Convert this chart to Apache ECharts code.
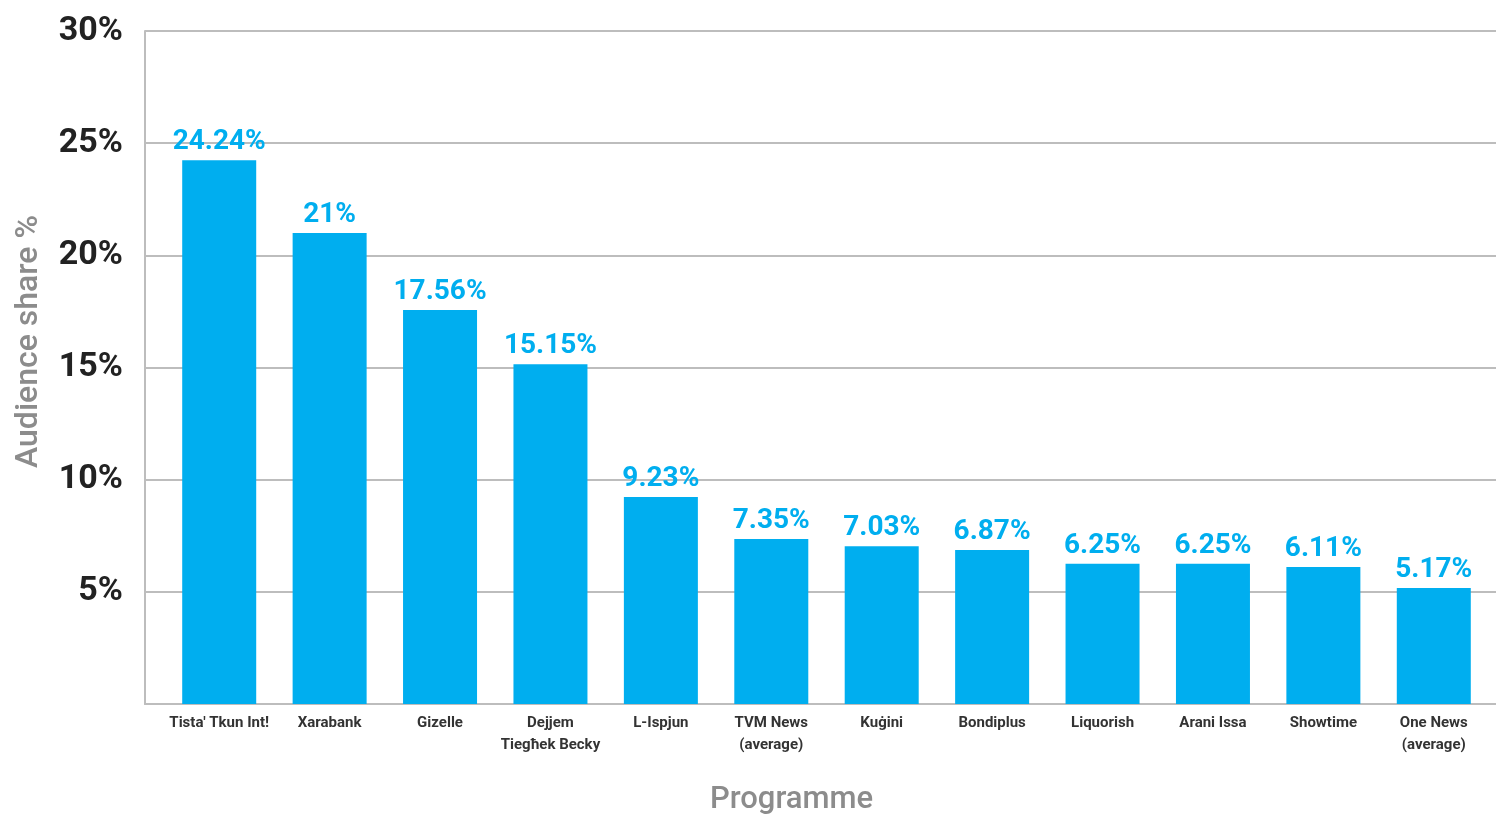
<!DOCTYPE html>
<html>
<head>
<meta charset="utf-8">
<script src="https://cdn.jsdelivr.net/npm/echarts@6/dist/echarts.min.js"></script>
<style>
  html, body { margin: 0; padding: 0; background: #fff; }
  #chart { width: 1496px; height: 822px; }
</style>
</head>
<body>
<div id="chart"></div>
<script>
const categories = [
  "Tista' Tkun Int!", 'Xarabank', 'Gizelle', 'Dejjem\nTiegħek Becky',
  'L-Ispjun', 'TVM News\n(average)', 'Kuġini', 'Bondiplus',
  'Liquorish', 'Arani Issa', 'Showtime', 'One News\n(average)'
]
const shares = [24.24, 21, 17.56, 15.15, 9.23, 7.35, 7.03, 6.87, 6.25, 6.25, 6.11, 5.17]
const yTicks = [0, 5, 10, 15, 20, 25, 30]

const FONT = "Roboto, 'Liberation Sans', sans-serif"
const BLUE = '#00aeef'

const chart = echarts.init(document.getElementById('chart'))

chart.setOption({
  animation: false,
  grid: [
    // frame: axis lines and gridlines
    { left: 145, right: 0, top: 31, bottom: 118, outerBoundsMode: 'none', containLabel: false },
    // bars
    { left: 164, right: 7, top: 31, bottom: 118, outerBoundsMode: 'none', containLabel: false }
  ],
  xAxis: [
    {
      gridIndex: 0,
      type: 'value',
      min: 0,
      max: 1,
      axisLine: { show: true, onZero: false, lineStyle: { color: '#bdbdbd', width: 2 } },
      axisTick: { show: false },
      axisLabel: { show: false },
      splitLine: { show: false }
    },
    {
      gridIndex: 1,
      type: 'category',
      data: categories,
      axisLine: { show: false },
      axisTick: { show: false },
      axisLabel: {
        interval: 0,
        margin: 8,
        fontFamily: FONT,
        fontWeight: 'bold',
        fontSize: 15,
        lineHeight: 22,
        color: '#333'
      },
      name: 'Programme',
      nameLocation: 'middle',
      nameGap: 81,
      nameTextStyle: {
        fontFamily: FONT,
        fontWeight: 500,
        fontSize: 31,
        color: '#8c8c8c',
        padding: [0, 70, 0, 0]
      }
    }
  ],
  yAxis: [
    {
      gridIndex: 0,
      type: 'value',
      min: yTicks[0],
      max: yTicks[yTicks.length - 1],
      interval: 5,
      axisLine: { show: true, lineStyle: { color: '#bdbdbd', width: 2 } },
      axisTick: { show: false },
      splitLine: { show: true, lineStyle: { color: '#bdbdbd', width: 2 } },
      axisLabel: {
        margin: 22,
        fontFamily: FONT,
        fontWeight: 'bold',
        fontSize: 34,
        color: '#222',
        padding: [4, 0, 0, 0],
        formatter: (v) => (v === 0 ? '' : v + '%')
      },
      name: 'Audience share %',
      nameLocation: 'middle',
      nameGap: 100,
      nameTextStyle: {
        fontFamily: FONT,
        fontWeight: 500,
        fontSize: 32,
        color: '#8c8c8c',
        padding: [0, 0, 0, 52]
      }
    },
    {
      gridIndex: 1,
      type: 'value',
      min: 0,
      max: 30,
      interval: 5,
      show: false
    }
  ],
  series: [
    {
      type: 'bar',
      xAxisIndex: 1,
      yAxisIndex: 1,
      data: shares,
      barWidth: 74,
      itemStyle: { color: BLUE },
      label: {
        show: true,
        position: 'top',
        distance: 4,
        fontFamily: FONT,
        fontWeight: 'bold',
        fontSize: 28,
        color: BLUE,
        formatter: (p) => p.value + '%'
      }
    }
  ]
})
</script>
</body>
</html>
